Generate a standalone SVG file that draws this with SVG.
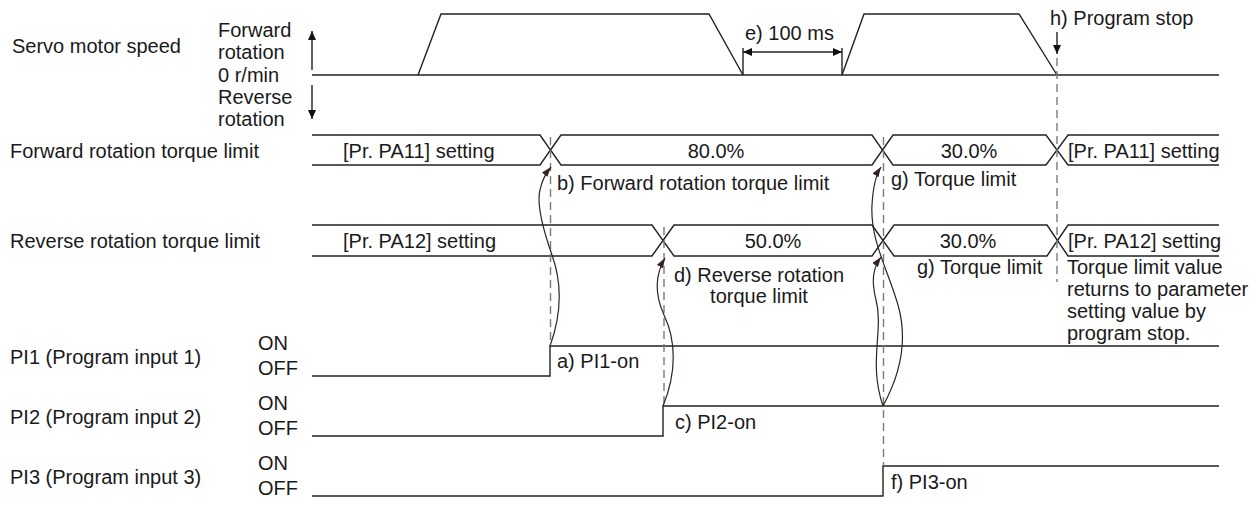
<svg xmlns="http://www.w3.org/2000/svg" width="1256" height="506" viewBox="0 0 1256 506">
<style>
text{font-family:"Liberation Sans",Arial,sans-serif;font-size:20px;fill:#1a1a1a}
.mid{text-anchor:middle}
.ln{fill:none;stroke:#222;stroke-width:1.4}
.dash{fill:none;stroke:#7a7a7a;stroke-width:1.4;stroke-dasharray:8,5}
.cv{fill:none;stroke:#33221e;stroke-width:1.2}
</style>
<defs>
<marker id="ah" markerUnits="userSpaceOnUse" markerWidth="9" markerHeight="8" refX="9" refY="4" orient="auto-start-reverse"><path d="M0,0 L9,4 L0,8 z" fill="#111"/></marker>
<marker id="ac" markerUnits="userSpaceOnUse" markerWidth="10" markerHeight="7" refX="10" refY="3.5" orient="auto"><path d="M0,0 L10,3.5 L0,7 z" fill="#33221e"/></marker>
</defs>

<g id="labels">
<text x="12" y="53">Servo motor speed</text>
<text x="218" y="37">Forward</text>
<text x="218" y="59">rotation</text>
<text x="218" y="82">0 r/min</text>
<text x="218" y="104">Reverse</text>
<text x="218" y="126">rotation</text>
<text x="10" y="158">Forward rotation torque limit</text>
<text x="10" y="248">Reverse rotation torque limit</text>
<text x="10" y="364">PI1 (Program input 1)</text>
<text x="10" y="424">PI2 (Program input 2)</text>
<text x="10" y="484">PI3 (Program input 3)</text>
<text x="258" y="350">ON</text>
<text x="258" y="375">OFF</text>
<text x="258" y="410">ON</text>
<text x="258" y="435">OFF</text>
<text x="258" y="470">ON</text>
<text x="258" y="495">OFF</text>
</g>

<g id="speed">
<path class="ln" d="M312,70 V31" marker-end="url(#ah)"/>
<path class="ln" d="M312,85 V119" marker-end="url(#ah)"/>
<path class="ln" d="M312,75 H1219"/>
<path class="ln" d="M418,75 L441,14 H709 L743,75"/>
<path class="ln" d="M842,75 L864,14 H1019 L1057,75"/>
</g>

<g id="dim-e">
<path class="ln" d="M743,48 V75 M842,48 V75"/>
<path class="ln" d="M743,52 H842" marker-start="url(#ah)" marker-end="url(#ah)"/>
<text x="745" y="40">e) 100 ms</text>
</g>

<g id="stop-h">
<text x="1050" y="25">h) Program stop</text>
<path class="ln" d="M1057,32 V54" marker-end="url(#ah)"/>
</g>

<g id="fwd-torque">
<path class="ln" d="M312,135 H540 L550.5,150 L540,165 H312"/>
<path class="ln" d="M550.5,150 L561,135 H872 L882.5,150 L872,165 H561 Z"/>
<path class="ln" d="M882.5,150 L893,135 H1046 L1057,150 L1046,165 H893 Z"/>
<path class="ln" d="M1219,135 H1068 L1057,150 L1068,165 H1219"/>
<text x="343" y="158">[Pr. PA11] setting</text>
<text class="mid" x="716" y="158">80.0%</text>
<text class="mid" x="969" y="158">30.0%</text>
<text x="1068" y="158">[Pr. PA11] setting</text>
</g>

<g id="rev-torque">
<path class="ln" d="M312,225 H652 L663,240.5 L652,256 H312"/>
<path class="ln" d="M663,240.5 L674,225 H872 L883,240.5 L872,256 H674 Z"/>
<path class="ln" d="M883,240.5 L894,225 H1047 L1057.5,240.5 L1047,256 H894 Z"/>
<path class="ln" d="M1219,225 H1068 L1057.5,240.5 L1068,256 H1219"/>
<text x="343" y="248">[Pr. PA12] setting</text>
<text class="mid" x="773" y="248">50.0%</text>
<text class="mid" x="968" y="248">30.0%</text>
<text x="1068" y="248">[Pr. PA12] setting</text>
</g>

<g id="pi1"><path class="ln" d="M312,376 H550 V346 H1219"/></g>
<g id="pi2"><path class="ln" d="M312,436 H663 V406 H1219"/></g>
<g id="pi3"><path class="ln" d="M312,496 H883 V466 H1219"/></g>

<g id="connectors">
<path class="dash" d="M550.5,137 V346"/>
<path class="dash" d="M664,227 V406"/>
<path class="dash" d="M883.5,137 V466"/>
<path class="dash" d="M1057,58 V282"/>
<path class="cv" d="M550,346 C563,310 561,280 552,255 C544,232 536,205 540,190 C542,180 546,173 551,167" marker-end="url(#ac)"/>
<path class="cv" d="M663,406 C677,372 676,340 664,315 C655,295 655,275 665,258" marker-end="url(#ac)"/>
<path class="cv" d="M883,406 C900,375 908,340 898,305 C888,270 870,240 872,205 C873,188 875,176 881,167" marker-end="url(#ac)"/>
<path class="cv" d="M883,406 C868,362 884,330 876,300 C871,280 873,268 881,257" marker-end="url(#ac)"/>
</g>

<g id="annotations">
<text x="557" y="190">b) Forward rotation torque limit</text>
<text x="891" y="186">g) Torque limit</text>
<text class="mid" x="759" y="282">d) Reverse rotation</text>
<text class="mid" x="759" y="303">torque limit</text>
<text x="917" y="274">g) Torque limit</text>
<text x="1067" y="274">Torque limit value</text>
<text x="1067" y="296">returns to parameter</text>
<text x="1067" y="318">setting value by</text>
<text x="1067" y="340">program stop.</text>
<text x="557" y="368">a) PI1-on</text>
<text x="675" y="429">c) PI2-on</text>
<text x="891" y="489">f) PI3-on</text>
</g>
</svg>
